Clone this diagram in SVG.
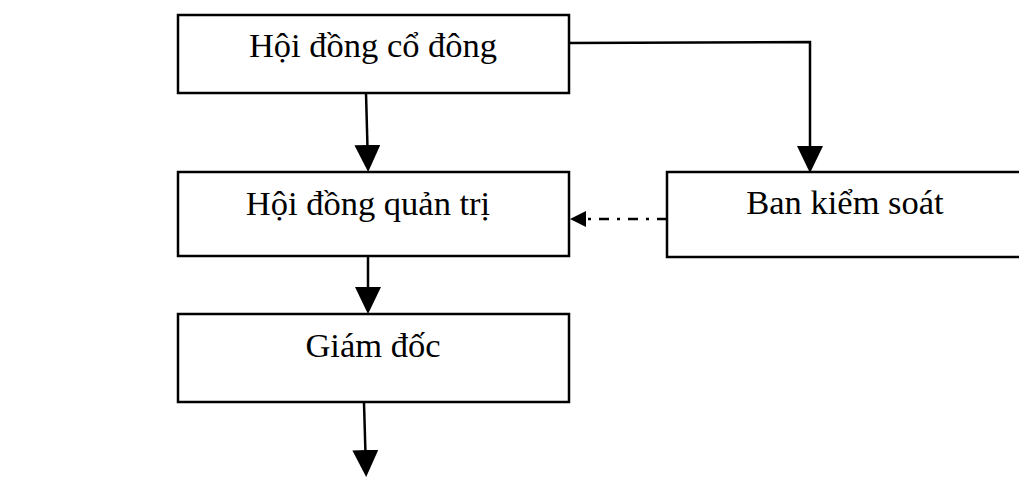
<svg xmlns="http://www.w3.org/2000/svg" width="1019" height="477" viewBox="0 0 1019 477">
  <style>
    .box { fill: #ffffff; stroke: #000000; stroke-width: 2.5; }
    .lbl { font-family: "Liberation Serif", "Times New Roman", serif; font-size: 34.5px; fill: #000000; text-anchor: middle; }
    .conn { fill: none; stroke: #000000; stroke-width: 2.5; }
    .dash { stroke-dasharray: 10 8 3 8; }
  </style>
  <defs>
    <marker id="arrow" markerUnits="userSpaceOnUse" markerWidth="27" markerHeight="27" refX="21" refY="13" orient="auto" viewBox="0 0 27 27">
      <path d="M0,0 L27,13 L0,26 Z" fill="#000000"/>
    </marker>
    <marker id="arrowSmall" markerUnits="userSpaceOnUse" markerWidth="16" markerHeight="16" refX="11" refY="8" orient="auto" viewBox="0 0 16 16">
      <path d="M0,0 L16,8 L0,16 Z" fill="#000000"/>
    </marker>
  </defs>

  <g id="connectors">
    <path class="conn" d="M366,93 L368,166" marker-end="url(#arrow)"/>
    <path class="conn" d="M569,43 L810,42 L810,167" marker-end="url(#arrow)"/>
    <path class="conn dash" d="M667,219 L575,219" marker-end="url(#arrowSmall)"/>
    <path class="conn" d="M368,256 L368,308" marker-end="url(#arrow)"/>
    <path class="conn" d="M364,403 L366,471" marker-end="url(#arrow)"/>
  </g>

  <g id="node-hdcd">
    <rect class="box" x="178" y="15" width="391" height="78"/>
    <text class="lbl" x="373" y="57">Hội đồng cổ đông</text>
  </g>
  <g id="node-hdqt">
    <rect class="box" x="178" y="172" width="391" height="84"/>
    <text class="lbl" x="368" y="215">Hội đồng quản trị</text>
  </g>
  <g id="node-bks">
    <rect class="box" x="667" y="172" width="380" height="85"/>
    <text class="lbl" x="845" y="214">Ban kiểm soát</text>
  </g>
  <g id="node-gd">
    <rect class="box" x="178" y="314" width="391" height="88"/>
    <text class="lbl" x="373" y="357">Giám đốc</text>
  </g>
</svg>
